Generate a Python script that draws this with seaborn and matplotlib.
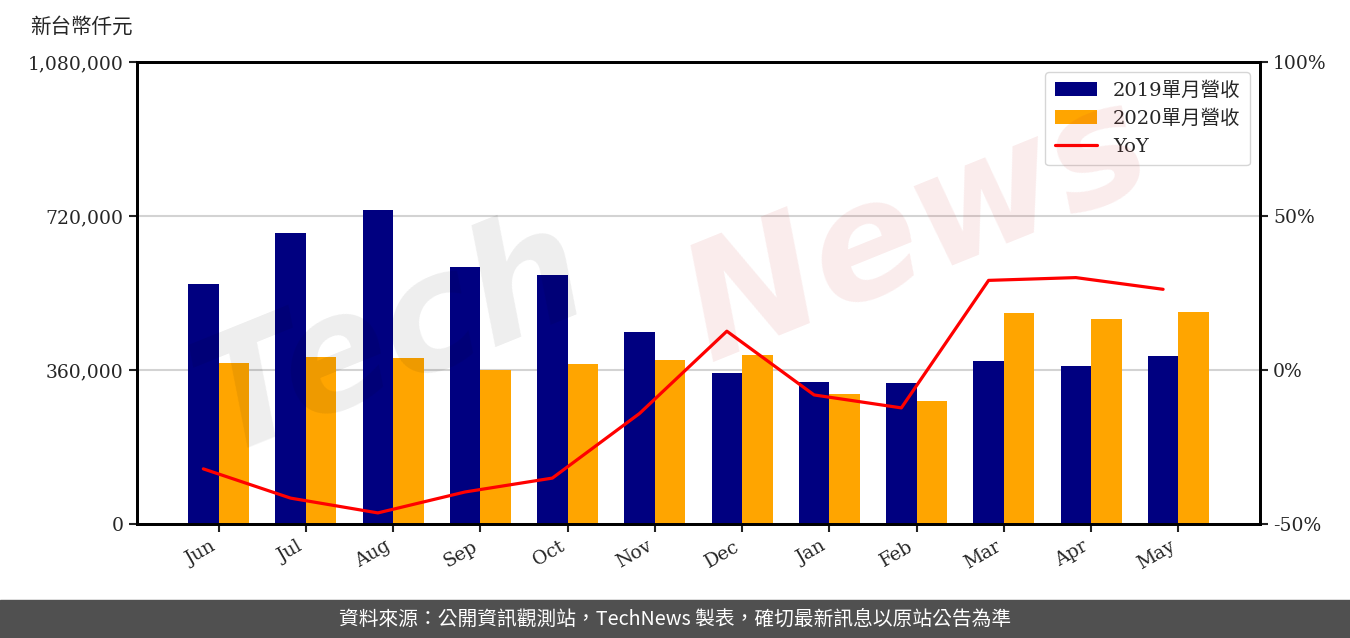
import numpy as np
import pandas as pd
import matplotlib
matplotlib.use('Agg')
import matplotlib.pyplot as plt
import seaborn as sns
from matplotlib.ticker import FuncFormatter

# data
months = ['Jun', 'Jul', 'Aug', 'Sep', 'Oct', 'Nov', 'Dec', 'Jan', 'Feb', 'Mar', 'Apr', 'May']
rev_2019 = [561000, 680000, 734000, 601000, 582000, 449000, 353000, 332000, 330000, 381000, 369000, 393000]
rev_2020 = [376000, 390000, 388000, 360000, 374000, 383000, 395000, 304000, 287000, 493000, 479000, 496000]
yoy = [-32.1, -41.6, -46.4, -39.6, -35.1, -14.1, 12.6, -8.1, -12.3, 29.1, 30.0, 26.2]
series_names = ['2019單月營收', '2020單月營收']

df = pd.DataFrame({
    'month': months * 2,
    'revenue': rev_2019 + rev_2020,
    'series': [series_names[0]] * len(months) + [series_names[1]] * len(months),
})

sns.set_style('white')
plt.rcParams['font.family'] = ['DejaVu Serif', 'Noto Sans CJK TC']
plt.rcParams['font.size'] = 13.5

fig = plt.figure(figsize=(13.5, 6.38), dpi=100)
ax = fig.add_axes([0.1015, 0.1787, 0.8318, 0.7241])

sns.barplot(data=df, x='month', y='revenue', hue='series', order=months,
            palette=['#000080', '#FFA500'], width=0.7, saturation=1,
            linewidth=0, edgecolor='none', ax=ax, legend=True)
ax.set_ylim(0, 1080000)
ax.set_yticks([0, 360000, 720000, 1080000])
ax.yaxis.set_major_formatter(FuncFormatter(lambda v, p: f'{int(v):,}'))
ax.grid(axis='y', color='#d3d3d3', linewidth=1.5)
ax.set_axisbelow(True)
ax.set_xlabel('')
ax.set_ylabel('')
ax.tick_params(axis='both', direction='out', length=6, width=1.5, color='#222222',
               labelsize=13.5, left=True, bottom=True)
for lbl in ax.get_xticklabels():
    lbl.set_rotation(30)
    lbl.set_ha('right')
for s in ax.spines.values():
    s.set_color('black')
    s.set_linewidth(2)

handles, labels = ax.get_legend_handles_labels()
ax.get_legend().remove()

ax2 = ax.twinx()
xpos = np.arange(len(months)) - 0.175
sns.lineplot(x=xpos, y=yoy, color='red', linewidth=2.3, ax=ax2, label='YoY', legend=False)
ax2.set_ylim(-50, 100)
ax2.set_yticks([-50, 0, 50, 100])
ax2.yaxis.set_major_formatter(FuncFormatter(lambda v, p: f'{int(v)}%'))
ax2.tick_params(axis='y', direction='out', length=6, width=1.5, color='#222222',
                labelsize=13.5, right=True)
for s in ax2.spines.values():
    s.set_color('black')
    s.set_linewidth(2)
ax.set_xlim(-0.935, 11.935)

h2, l2 = ax2.get_legend_handles_labels()
ax2.legend(handles + h2, labels + l2, loc='upper right', fontsize=14,
           handlelength=2.2, borderpad=0.5, labelspacing=0.5, handletextpad=0.8)

# watermark
fig.text(0.29, 0.47, 'Tech', fontsize=115, fontweight='bold', style='italic',
         family='DejaVu Sans', rotation=22, color='black', alpha=0.07,
         ha='center', va='center')
fig.text(0.68, 0.64, 'News', fontsize=115, fontweight='bold', style='italic',
         family='DejaVu Sans', rotation=22, color=(0.8, 0.18, 0.18), alpha=0.09,
         ha='center', va='center')

fig.text(30 / 1350, 1 - 27 / 638, '新台幣仟元', fontsize=14.8,
         family=['Noto Sans CJK TC', 'DejaVu Sans'], ha='left', va='center')

# footer bar
fig.patches.append(plt.Rectangle((0, 0), 1, 38 / 638, transform=fig.transFigure,
                                 color='#505050', zorder=0))
fig.text(0.5, 19 / 638, '資料來源：公開資訊觀測站，TechNews 製表，確切最新訊息以原站公告為準',
         color='white', fontsize=14.2, family=['Noto Sans CJK TC', 'DejaVu Sans'],
         ha='center', va='center')

fig.savefig('out.png', dpi=100)
